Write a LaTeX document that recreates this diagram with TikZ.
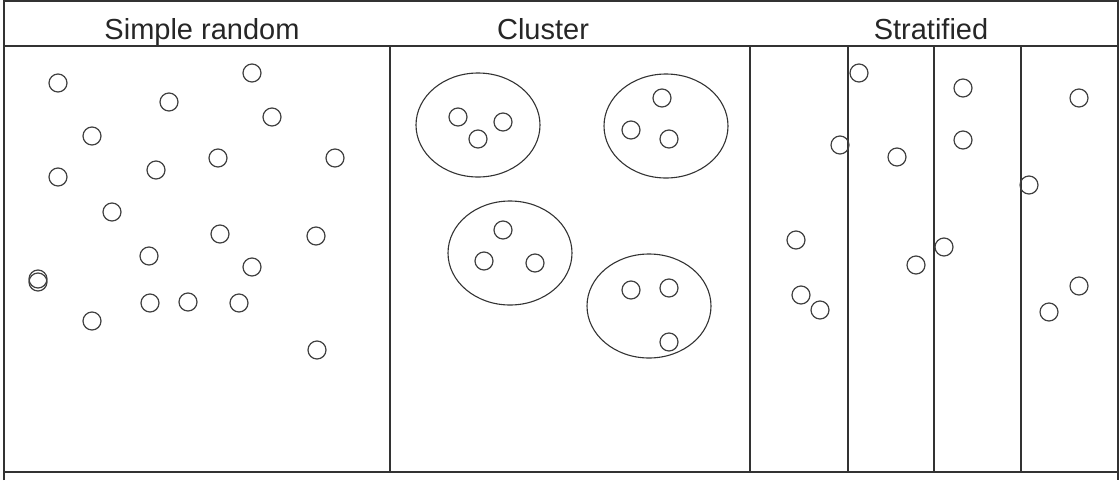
\documentclass[tikz,border=0pt]{standalone}
\usepackage{fontspec}
\setmainfont{Liberation Sans}

\tikzstyle{frame}=[draw=black!80,line width=1.3pt]
\tikzstyle{unit}=[draw=black!75,line width=1.2pt]
\tikzstyle{group}=[draw=black!80,line width=1.1pt]
\tikzstyle{head}=[font=\fontsize{29}{34}\selectfont,text=black!85,anchor=base]
\def\dotr{9}

\begin{document}
\begin{tikzpicture}[x=1pt,y=-1pt]
			\useasboundingbox (0,0) rectangle (1119,480);
			% table frame
			\draw[frame] (4,480)--(4,1)--(1118,1)--(1118,480);
			\draw[frame] (4,46)--(1118,46);
			\draw[frame] (4,472)--(1119,472);
			\draw[frame] (390,46)--(390,472);
			\draw[frame] (750,46)--(750,472);
			\foreach \x in {848,934,1021}
				\draw[frame] (\x,46)--(\x,472);
			% headings
			\node[head] (simple) at (202,39) {Simple random};
			\node[head] (cluster) at (543,39) {Cluster};
			\node[head] (strat) at (931,39) {Stratified};
			% simple random
			\foreach \x/\y in {58/83,169/102,252/73,272/117,92/136,218/158,335/158,58/177,156/170,112/212,
				220/234,316/236,149/256,252/267,38/279,38/282,150/303,188/302,239/303,92/321,317/350}
				\draw[unit] (\x,\y) circle(\dotr);
			% cluster
			\foreach \x/\y in {478/125,666/126,510/253,649/306}
				\draw[group] (\x,\y) ellipse(62 and 52);
			\foreach \x/\y in {458/117,503/122,478/139,662/98,631/130,669/139,
				503/230,484/261,535/263,631/290,669/288,669/342}
				\draw[unit] (\x,\y) circle(\dotr);
			% stratified
			\foreach \x/\y in {859/73,963/88,1079/98,840/145,897/157,963/140,1029/185,796/240,
				944/247,916/265,801/295,820/310,1079/286,1049/312}
				\draw[unit] (\x,\y) circle(\dotr);
		\end{tikzpicture}
\end{document}
